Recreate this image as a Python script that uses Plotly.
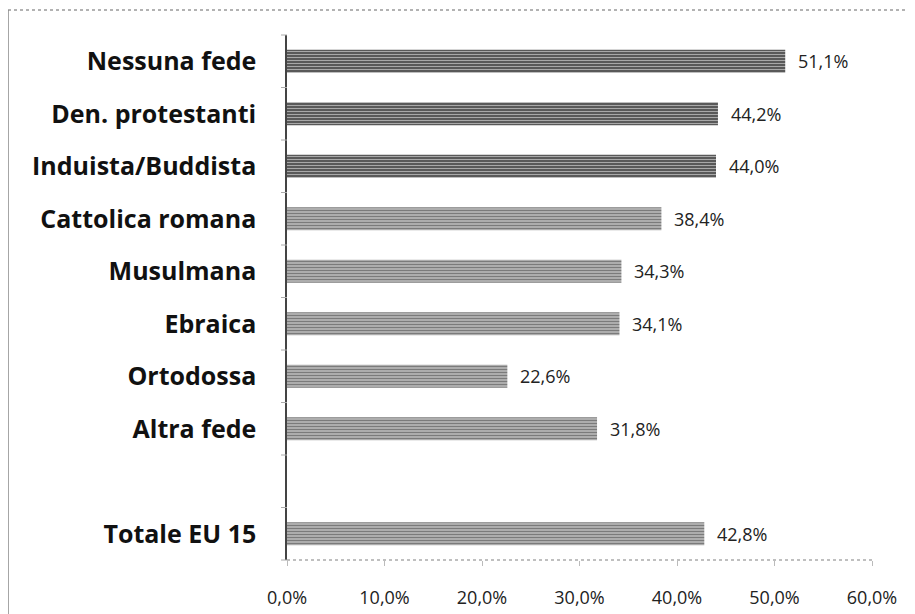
import plotly.graph_objects as go

categories = ["Nessuna fede", "Den. protestanti", "Induista/Buddista", "Cattolica romana",
              "Musulmana", "Ebraica", "Ortodossa", "Altra fede", " ", "Totale EU 15"]
values = [51.1, 44.2, 44.0, 38.4, 34.3, 34.1, 22.6, 31.8, None, 42.8]
dark_group = [True, True, True, False, False, False, False, False, False, False]
x_ticks = [0, 10, 20, 30, 40, 50, 60]

DARK = "#505050"
LIGHT = "#b2b2b2"
colors = [DARK if d else LIGHT for d in dark_group]
fg = ["#686868" if d else "#c8c8c8" for d in dark_group]

# page body has an 8px offset; figure coordinates compensate for it
W, H = 915, 614
L, R, T, B = 279, 51, 27, 62
PW, PH = W - L - R, H - T - B

fig = go.Figure()
fig.add_trace(go.Bar(
    y=categories,
    x=values,
    orientation="h",
    marker=dict(
        color=colors,
        line=dict(width=0),
        pattern=dict(shape="-", fgcolor=fg, size=3, solidity=0.4, fillmode="overlay"),
    ),
    width=0.44,
    hoverinfo="skip",
))

for c, v in zip(categories, values):
    if v is None:
        continue
    fig.add_annotation(x=v, y=c, xref="x", yref="y",
                       text=f"{v:.1f}%".replace(".", ","),
                       showarrow=False, xanchor="left", xshift=11,
                       font=dict(family="Open Sans", size=18, color="#222222"))

fig.update_layout(
    width=W, height=H,
    margin=dict(l=L, r=R, t=T, b=B, autoexpand=False),
    paper_bgcolor="white",
    plot_bgcolor="white",
    showlegend=False,
    xaxis=dict(
        range=[0, 60],
        tickvals=x_ticks,
        ticktext=[f"{t:.1f}%".replace(".", ",") for t in x_ticks],
        tickfont=dict(family="Open Sans", size=18, color="#222222"),
        showgrid=False,
        zeroline=False,
        showline=False,
        ticks="outside",
        ticklen=5,
        tickcolor="#bbbbbb",
        ticklabelstandoff=16,
        fixedrange=True,
    ),
    yaxis=dict(
        categoryorder="array",
        categoryarray=categories,
        autorange="reversed",
        tickfont=dict(family="Open Sans", size=25, color="#111111", weight="bold"),
        showgrid=False,
        zeroline=False,
        showline=True,
        linecolor="#444444",
        linewidth=1.5,
        ticks="",
        ticklabelstandoff=24,
        fixedrange=True,
    ),
)

# dotted x-axis baseline
fig.add_shape(type="line", xref="paper", yref="paper", x0=0, x1=1, y0=0, y1=0,
              line=dict(color="#aaaaaa", width=1.5, dash="dot"))

# outer frame (left and top edges only visible)
fig.add_shape(type="line", xref="paper", yref="paper",
              x0=-L / PW, x1=(W - L) / PW, y0=(PH + T - 2) / PH, y1=(PH + T - 2) / PH,
              line=dict(color="#999999", width=1.5, dash="dot"))
fig.add_shape(type="line", xref="paper", yref="paper",
              x0=-L / PW, x1=-L / PW, y0=(PH + T - 2) / PH, y1=-B / PH,
              line=dict(color="#888888", width=1.5))

# small y-axis tick marks between categories
for i in range(len(categories) + 1):
    yp = 1 - i / len(categories)
    fig.add_shape(type="line", xref="paper", yref="paper",
                  x0=-6 / PW, x1=0, y0=yp, y1=yp,
                  line=dict(color="#aaaaaa", width=1))

fig.write_html("out.html")
